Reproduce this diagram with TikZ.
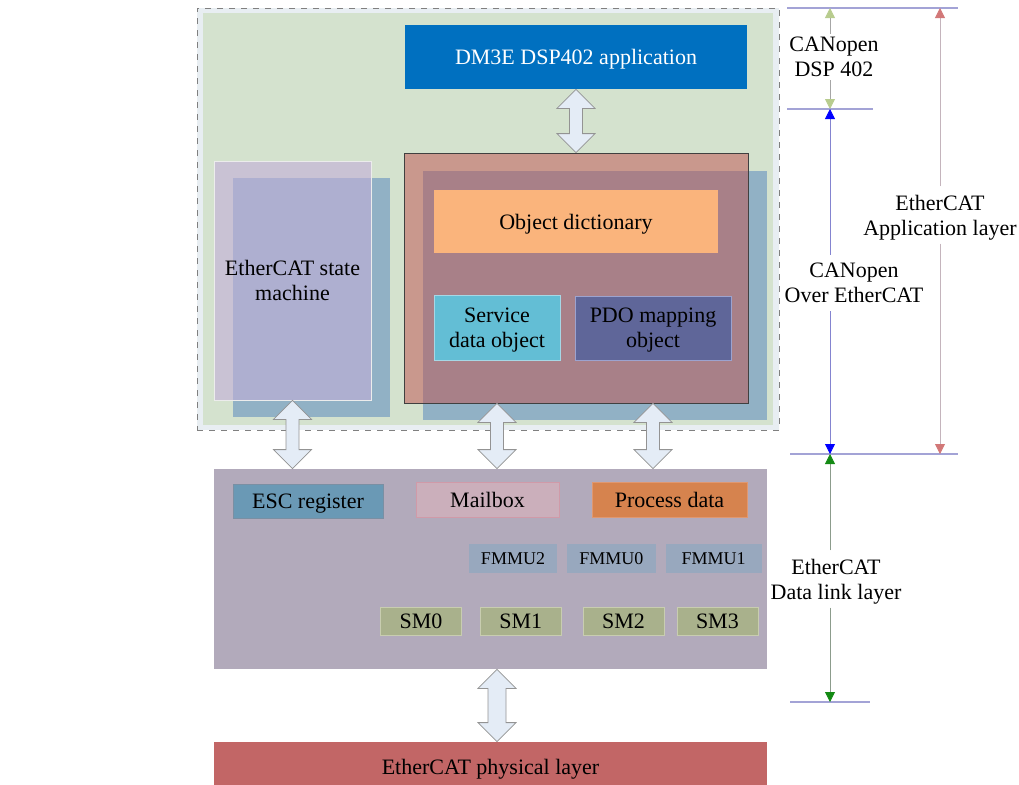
\documentclass[tikz,border=0pt]{standalone}
\usepackage{fontspec}
\setmainfont{Liberation Serif}
\usepackage{tikz}
\usetikzlibrary{positioning,calc,arrows.meta}
\usepackage{xcolor}

\definecolor{edgefill}{HTML}{E8EEF2}
\definecolor{appgreen}{HTML}{D4E2CE}
\definecolor{dspblue}{HTML}{0070C0}
\definecolor{accblue}{HTML}{4F81BD}
\definecolor{accred}{HTML}{C0504D}
\definecolor{esmlav}{HTML}{C2AED8}
\definecolor{odorange}{HTML}{FAB47C}
\definecolor{sdocyan}{HTML}{63BED5}
\definecolor{sdoedge}{HTML}{A6D8E6}
\definecolor{pdoblue}{HTML}{5F6699}
\definecolor{pdoedge}{HTML}{9CA3CF}
\definecolor{dllgray}{HTML}{B2AABB}
\definecolor{escblue}{HTML}{6A99B5}
\definecolor{escedge}{HTML}{7A8FA3}
\definecolor{mbxpink}{HTML}{CBAFBB}
\definecolor{mbxedge}{HTML}{D09AA8}
\definecolor{pdorange}{HTML}{D6834E}
\definecolor{pdedge}{HTML}{E09870}
\definecolor{fmmublue}{HTML}{98A8BE}
\definecolor{smgreen}{HTML}{A9B18C}
\definecolor{smedge}{HTML}{C8CDB0}
\definecolor{phyred}{HTML}{C26666}
\definecolor{arrowfill}{HTML}{E4ECF6}
\definecolor{tickblue}{HTML}{A3A3D6}

% fat double arrow between two points on one vertical, #1 = half shaft width
\newcommand{\updown}[3][6.5]{%
  \draw[fatarrow] (#2) -- ++(19,19) -- ++({-19+#1},0) -- ($(#3)+(#1,-19)$) -- ++({19-#1},0)
    -- (#3) -- ++(-19,-19) -- ++({19-#1},0) -- ($(#2)+(-#1,19)$) -- ++({-19+#1},0) -- cycle;}

\begin{document}
\begin{tikzpicture}[x=0.5pt, y=-0.5pt,
    every node/.style = {rectangle, inner sep=0pt, align=center, text depth=0pt, font=\fontsize{11}{12.5}\selectfont},
    fatarrow/.style = {draw=gray!85, fill=arrowfill, line width=0.4pt},
    fmmu/.style = {fill=fmmublue, minimum height=14.5pt, font=\fontsize{9}{10}\selectfont},
    smbox/.style = {fill=smgreen, draw=smedge, minimum width=40.5pt, minimum height=14pt},
    tick/.style = {draw=tickblue, line width=0.6pt},
    dimlbl/.style = {inner sep=4pt},
    dsparr/.style = {draw=gray!70, -{Triangle[length=5pt, width=5pt, color={rgb,255:red,184;green,204;blue,142}]}},
    coearr/.style = {draw={rgb,255:red,132;green,132;blue,208}, -{Triangle[length=5pt, width=5pt, color=blue]}},
    apparr/.style = {draw={rgb,255:red,196;green,180;blue,188}, -{Triangle[length=5pt, width=5pt, color={rgb,255:red,210;green,120;blue,120}]}},
    dllarr/.style = {draw={rgb,255:red,140;green,156;blue,140}, -{Triangle[length=5pt, width=5pt, color={rgb,255:red,19;green,138;blue,19}]}}
    ]
    \useasboundingbox (0,0) rectangle (1019,784);

    % application layer
    \node[draw=gray, dashed, fill=edgefill, minimum width=291pt, minimum height=211pt] (app) at (488,219) {};
    \node[fill=appgreen, minimum width=285pt, minimum height=206pt] (appin) at (488,219) {};
    \node[fill=dspblue, text=white, minimum width=171pt, minimum height=32pt] (dsp) at (576,57) {DM3E DSP402 application};

    \node[fill=accblue, fill opacity=0.5, minimum width=78.5pt, minimum height=119.5pt] (esmback) at (311.5,297.5) {};
    \node[fill=esmlav, fill opacity=0.6, text opacity=1, draw=white!85!gray, minimum width=78.5pt, minimum height=119.5pt] (esm) at (292.5,280.5) {EtherCAT state\\machine};

    \node[fill=accblue, fill opacity=0.5, minimum width=172pt, minimum height=124.5pt] (coeback) at (595,295.5) {};
    \node[fill=accred, fill opacity=0.5, draw=darkgray, minimum width=172pt, minimum height=125pt] (coe) at (576,278) {};
    \node[fill=odorange, minimum width=142pt, minimum height=31.5pt] (od) at (576,221.5) {Object dictionary};
    \node[fill=sdocyan, draw=sdoedge, minimum width=63pt, minimum height=32.5pt] (sdo) at (497,327.5) {Service\\data object};
    \node[fill=pdoblue, draw=pdoedge, minimum width=78pt, minimum height=32pt] (pdo) at (653,328) {PDO mapping\\object};

    % data link layer
    \node[fill=dllgray, minimum width=276.5pt, minimum height=100pt] (dll) at (490.5,569) {};
    \node[fill=escblue, draw=escedge, minimum width=75pt, minimum height=17pt] (esc) at (308,501) {ESC register};
    \node[fill=mbxpink, draw=mbxedge, minimum width=71.5pt, minimum height=17.5pt] (mbx) at (487.5,499.5) {Mailbox};
    \node[fill=pdorange, draw=pdedge, minimum width=77.5pt, minimum height=17.5pt] (pd) at (669.5,499.5) {Process data};

    \node[fmmu, minimum width=44pt] (fmmu2) at (513,558.5) {FMMU2};
    \node[fmmu, minimum width=44.5pt] (fmmu0) [right=4.5pt of fmmu2] {FMMU0};
    \node[fmmu, minimum width=48pt] (fmmu1) [right=4.5pt of fmmu0] {FMMU1};

    \node[smbox] (sm0) at (421,621) {SM0};
    \node[smbox] (sm1) [right=9pt of sm0] {SM1};
    \node[smbox] (sm2) [right=10.5pt of sm1] {SM2};
    \node[smbox] (sm3) [right=6pt of sm2] {SM3};

    % physical layer
    \node[fill=phyred, minimum width=276.5pt, minimum height=25pt] (phy) at (490.5,767) {EtherCAT physical layer};

    \updown{dsp.south}{coe.north}
    \updown{esm.south}{esm.south |- dll.north}
    \updown{sdo |- coe.south}{sdo |- dll.north}
    \updown{pdo |- coe.south}{pdo |- dll.north}
    \updown[9]{sdo |- dll.south}{sdo |- phy.north}

    % layer dimensions
    \draw[tick] (787,8) -- (958,8);
    \draw[tick] (787,109) -- (873,109);
    \draw[tick] (790,454) -- (958,454);
    \draw[tick] (790,702) -- (870,702);

    \coordinate (c0) at (830,8);
    \coordinate (c1) at (830,109);
    \coordinate (c2) at (830,454);
    \coordinate (c3) at (830,702);
    \coordinate (r0) at (940,8);
    \coordinate (r2) at (940,454);

    \node[inner sep=1.5pt] (dsplbl) at (834,57) {CANopen\\DSP 402};
    \node[dimlbl] (coelbl) at (854,283) {CANopen\\Over EtherCAT};
    \node[dimlbl] (applbl) at (940,215) {EtherCAT\\Application layer};
    \node[dimlbl] (dlllbl) at (836,579) {EtherCAT\\Data link layer};

    \draw[dsparr] (dsplbl.north -| c0) -- (c0);
    \draw[dsparr] (dsplbl.south -| c1) -- (c1);
    \draw[coearr] (coelbl.north -| c1) -- (c1);
    \draw[coearr] (coelbl.south -| c2) -- (c2);
    \draw[apparr] (applbl.north -| r0) -- (r0);
    \draw[apparr] (applbl.south -| r2) -- (r2);
    \draw[dllarr] (dlllbl.north -| c2) -- (c2);
    \draw[dllarr] (dlllbl.south -| c3) -- (c3);
\end{tikzpicture}
\end{document}
